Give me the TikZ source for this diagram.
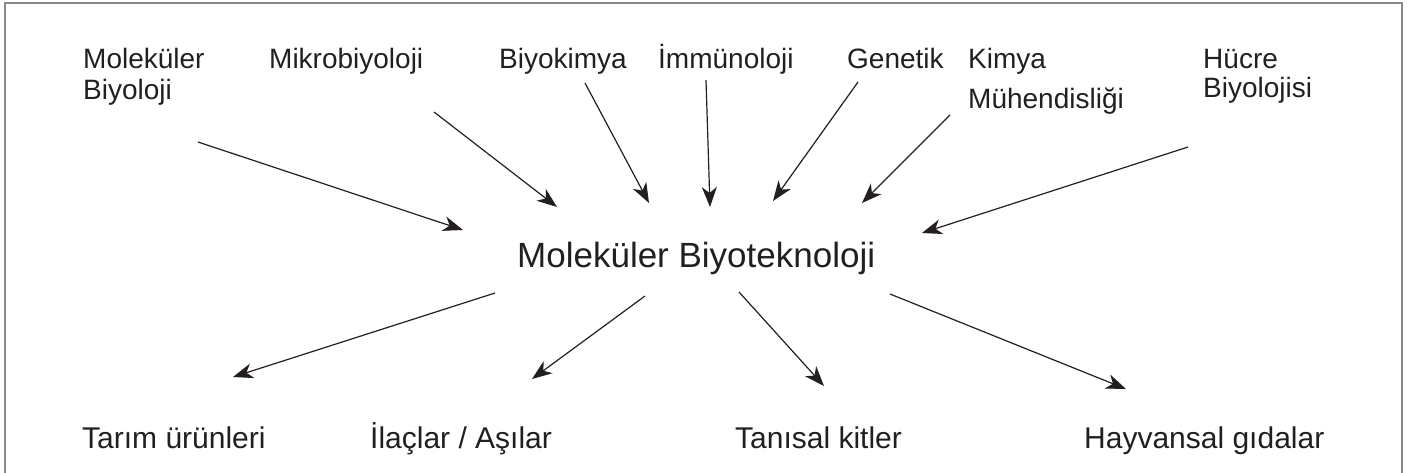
\documentclass[tikz,border=0pt]{standalone}
\usepackage{fontspec}
\setmainfont{Liberation Sans}
\usetikzlibrary{arrows.meta}
\definecolor{ink}{HTML}{231F20}
\definecolor{frame}{HTML}{8A8A8A}
\begin{document}
\begin{tikzpicture}[x=1pt,y=-1pt,
  toplabel/.style={anchor=base west,inner sep=0pt,text=ink,font=\fontsize{28}{31}\selectfont},
  botlabel/.style={anchor=base west,inner sep=0pt,text=ink,font=\fontsize{30}{34}\selectfont},
  mainlabel/.style={anchor=base west,inner sep=0pt,text=ink,font=\fontsize{35}{40}\selectfont},
  conn/.style={draw=ink,line width=1.2pt,-{Stealth[length=20pt,width=15pt,inset=6pt]}}]
\useasboundingbox (0,0) rectangle (1407,472);
\draw[frame,line width=2pt] (5,475) -- (5,3) -- (1402,3) -- (1402,475);
% top labels
\node[toplabel] (molbio) at (83,68) {\vtop{\baselineskip=31pt\hbox{Moleküler}\hbox{Biyoloji}}};
\node[toplabel] (mikro) at (269,68) {Mikrobiyoloji};
\node[toplabel] (biyokim) at (499,68) {Biyokimya};
\node[toplabel] (immun) at (658,68) {İmmünoloji};
\node[toplabel] (genetik) at (847,68) {Genetik};
\node[toplabel] (kimya) at (968,68) {\vtop{\baselineskip=40pt\hbox{Kimya}\hbox{Mühendisliği}}};
\node[toplabel] (hucre) at (1203,68) {\vtop{\baselineskip=29pt\hbox{Hücre}\hbox{Biyolojisi}}};
% centre
\node[mainlabel] (mb) at (517,267) {Moleküler Biyoteknoloji};
% bottom labels
\node[botlabel] (tarim) at (82,448) {Tarım ürünleri};
\node[botlabel] (ilac) at (370,448) {İlaçlar / Aşılar};
\node[botlabel] (tani) at (735,448) {Tanısal kitler};
\node[botlabel] (hayvan) at (1084,448) {Hayvansal gıdalar};
% connector ends
\coordinate (s1) at (198,142); \coordinate (e1) at (463,230);
\coordinate (s2) at (434,112); \coordinate (e2) at (557,207);
\coordinate (s3) at (585,83);  \coordinate (e3) at (649,203);
\coordinate (s4) at (706,80);  \coordinate (e4) at (710,207);
\coordinate (s5) at (858,82);  \coordinate (e5) at (773,201);
\coordinate (s6) at (950,115); \coordinate (e6) at (862,203);
\coordinate (s7) at (1188,147); \coordinate (e7) at (922,233);
\coordinate (s8) at (495,293); \coordinate (e8) at (233,377);
\coordinate (s9) at (645,296); \coordinate (e9) at (532,379);
\coordinate (s10) at (739,292); \coordinate (e10) at (824,386);
\coordinate (s11) at (890,294); \coordinate (e11) at (1126,389);
\foreach \i in {1,...,11} {\draw[conn] (s\i) -- (e\i);}
\end{tikzpicture}
\end{document}
